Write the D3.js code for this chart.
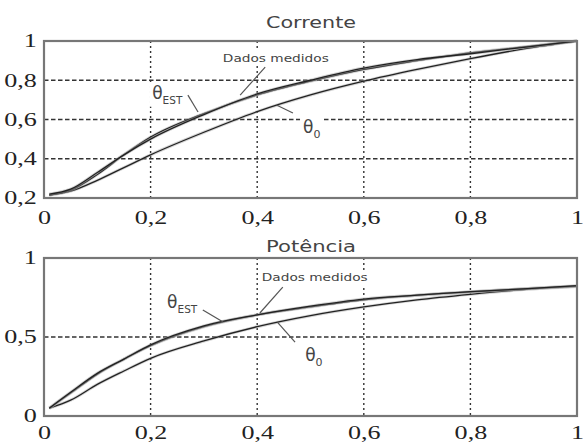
<!DOCTYPE html>
<html>
<head>
<meta charset="utf-8">
<script src="https://cdn.jsdelivr.net/npm/d3@7"></script>
<style>
  body { margin: 0; background: #fff; }
</style>
</head>
<body>
<div id="wrapper"></div>
<script>
const width = 587, height = 442;

// x positions shared by all curves
const xs = [0.01, 0.05, 0.1, 0.15, 0.2, 0.3, 0.4, 0.5, 0.6, 0.7, 0.8, 0.9, 1.0];

// Corrente
const corrMedido = [0.22, 0.245, 0.33, 0.42, 0.50, 0.625, 0.73, 0.80, 0.862, 0.905, 0.935, 0.968, 1.0];
const corrEst    = [0.215, 0.24, 0.32, 0.42, 0.51, 0.63, 0.725, 0.795, 0.855, 0.90, 0.94, 0.97, 1.0];
const corrTheta0 = [0.215, 0.235, 0.29, 0.355, 0.42, 0.535, 0.64, 0.725, 0.795, 0.855, 0.91, 0.96, 1.0];

// Potencia
const potMedido = [0.05, 0.15, 0.27, 0.36, 0.45, 0.57, 0.64, 0.695, 0.74, 0.765, 0.787, 0.805, 0.825];
const potEst    = [0.05, 0.145, 0.265, 0.36, 0.445, 0.565, 0.64, 0.69, 0.735, 0.765, 0.785, 0.805, 0.822];
const potTheta0 = [0.05, 0.10, 0.20, 0.285, 0.365, 0.475, 0.565, 0.635, 0.69, 0.735, 0.77, 0.80, 0.82];

const xTicks = [0, 0.2, 0.4, 0.6, 0.8, 1];
const xTickLabels = ["0", "0,2", "0,4", "0,6", "0,8", "1"];
const corrYTicks = [0.2, 0.4, 0.6, 0.8, 1];
const corrYLabels = ["0,2", "0,4", "0,6", "0,8", "1"];
const potYTicks = [0, 0.5, 1];
const potYLabels = ["0", "0,5", "1"];

// annotations in data units: text anchor, leader start, leader end
const corrNotes = [
    {kind: "text", label: "Dados medidos", x: 0.435, y: 0.913, lx1: 0.415, ly1: 0.867, lx2: 0.368, ly2: 0.724},
    {kind: "theta", sub: "EST", x: 0.203, y: 0.735, lx1: 0.27, ly1: 0.724, lx2: 0.289, ly2: 0.638},
    {kind: "theta", sub: "0", x: 0.486, y: 0.561, lx1: 0.467, ly1: 0.633, lx2: 0.437, ly2: 0.673}
];
const potNotes = [
    {kind: "text", label: "Dados medidos", x: 0.508, y: 0.878, lx1: 0.448, ly1: 0.816, lx2: 0.405, ly2: 0.652},
    {kind: "theta", sub: "EST", x: 0.231, y: 0.722, lx1: 0.298, ly1: 0.671, lx2: 0.336, ly2: 0.595},
    {kind: "theta", sub: "0", x: 0.49, y: 0.386, lx1: 0.471, ly1: 0.468, lx2: 0.439, ly2: 0.589}
];

const svg = d3.select("#wrapper").append("svg")
    .attr("width", width)
    .attr("height", height);

const x = d3.scaleLinear().domain([0, 1]).range([44, 577]);

const serif = "Liberation Serif";
const sans = "DejaVu Sans";

function styleTicks(a) {
    a.select(".domain").remove();
    a.attr("font-family", serif).attr("font-size", 18);
    a.selectAll("text")
        .style("font-family", serif).style("font-size", "18px").style("fill", "#222")
        .attr("transform", "scale(1.45,1)");
}

function panel(cfg) {
    const y = d3.scaleLinear().domain(cfg.yDomain).range([cfg.bottom, cfg.top]);
    const g = svg.append("g");

    // grid
    g.append("g").selectAll("line")
        .data(cfg.yTicks.filter(v => v > cfg.yDomain[0] && v < cfg.yDomain[1]))
        .enter().append("line")
        .attr("x1", x(0)).attr("x2", x(1))
        .attr("y1", d => y(d)).attr("y2", d => y(d))
        .style("stroke", "#333").style("stroke-width", 1.4)
        .style("stroke-dasharray", "4.5,2.5");
    g.append("g").selectAll("line")
        .data(xTicks.filter(v => v > 0 && v < 1))
        .enter().append("line")
        .attr("x1", d => x(d)).attr("x2", d => x(d))
        .attr("y1", cfg.top).attr("y2", cfg.bottom)
        .style("stroke", "#333").style("stroke-width", 1.4)
        .style("stroke-dasharray", "2,3");

    // curves
    const line = d3.line().x((d, i) => x(xs[i])).y(d => y(d)).curve(d3.curveMonotoneX);
    [cfg.theta0, cfg.est, cfg.medido].forEach(s => {
        g.append("path").datum(s)
            .attr("d", line)
            .style("fill", "none").style("stroke", "#aaa").style("stroke-width", 3).style("opacity", 0.5);
        g.append("path").datum(s)
            .attr("d", line)
            .style("fill", "none").style("stroke", "#222").style("stroke-width", 1.3);
    });

    // annotations
    cfg.notes.forEach(n => {
        g.append("line")
            .attr("x1", x(n.lx1)).attr("y1", y(n.ly1))
            .attr("x2", x(n.lx2)).attr("y2", y(n.ly2))
            .style("stroke", "#555").style("stroke-width", 1.2);
        const t = g.append("text")
            .attr("x", x(n.x)).attr("y", y(n.y))
            .style("font-family", sans).style("fill", "#444");
        if (n.kind === "text") {
            t.attr("text-anchor", "middle").attr("dy", "0.35em")
                .attr("textLength", 106).attr("lengthAdjust", "spacingAndGlyphs")
                .style("font-size", "11px").text(n.label);
        } else {
            t.attr("dy", "0.35em").style("font-size", "17px").text("θ");
            t.append("tspan").attr("dy", "0.45em")
                .style("font-size", n.sub === "0" ? "11px" : "10.5px").text(n.sub);
        }
        const bb = t.node().getBBox();
        g.insert("rect", "text")
            .attr("x", bb.x - 3).attr("y", bb.y - 1)
            .attr("width", bb.width + 6).attr("height", bb.height + 2)
            .style("fill", "#fff");
        t.raise();
    });

    // frame
    g.append("rect")
        .attr("x", x(0)).attr("y", cfg.top)
        .attr("width", x(1) - x(0)).attr("height", cfg.bottom - cfg.top)
        .style("fill", "none").style("stroke", "#777").style("stroke-width", 2.2);

    // axes
    const yAxis = d3.axisLeft(y).tickValues(cfg.yTicks)
        .tickFormat((d, i) => cfg.yLabels[i]).tickSize(0).tickPadding(5);
    g.append("g").attr("transform", "translate(" + x(0) + ",0)").call(yAxis)
        .call(styleTicks);

    const xAxis = d3.axisBottom(x).tickValues(xTicks)
        .tickFormat((d, i) => xTickLabels[i]).tickSize(0).tickPadding(cfg.xPad);
    g.append("g").attr("transform", "translate(0," + cfg.bottom + ")").call(xAxis)
        .call(styleTicks);

    // title
    g.append("text")
        .attr("x", 311).attr("y", cfg.titleY)
        .attr("text-anchor", "middle")
        .attr("textLength", 90).attr("lengthAdjust", "spacingAndGlyphs")
        .style("font-family", sans).style("font-size", "16px").style("fill", "#444")
        .text(cfg.title);
}

panel({title: "Corrente", titleY: 28, top: 41, bottom: 198, yDomain: [0.2, 1],
    yTicks: corrYTicks, yLabels: corrYLabels, xPad: 13,
    medido: corrMedido, est: corrEst, theta0: corrTheta0, notes: corrNotes});

panel({title: "Potência", titleY: 252, top: 258, bottom: 416, yDomain: [0, 1],
    yTicks: potYTicks, yLabels: potYLabels, xPad: 10,
    medido: potMedido, est: potEst, theta0: potTheta0, notes: potNotes});
</script>
</body>
</html>
